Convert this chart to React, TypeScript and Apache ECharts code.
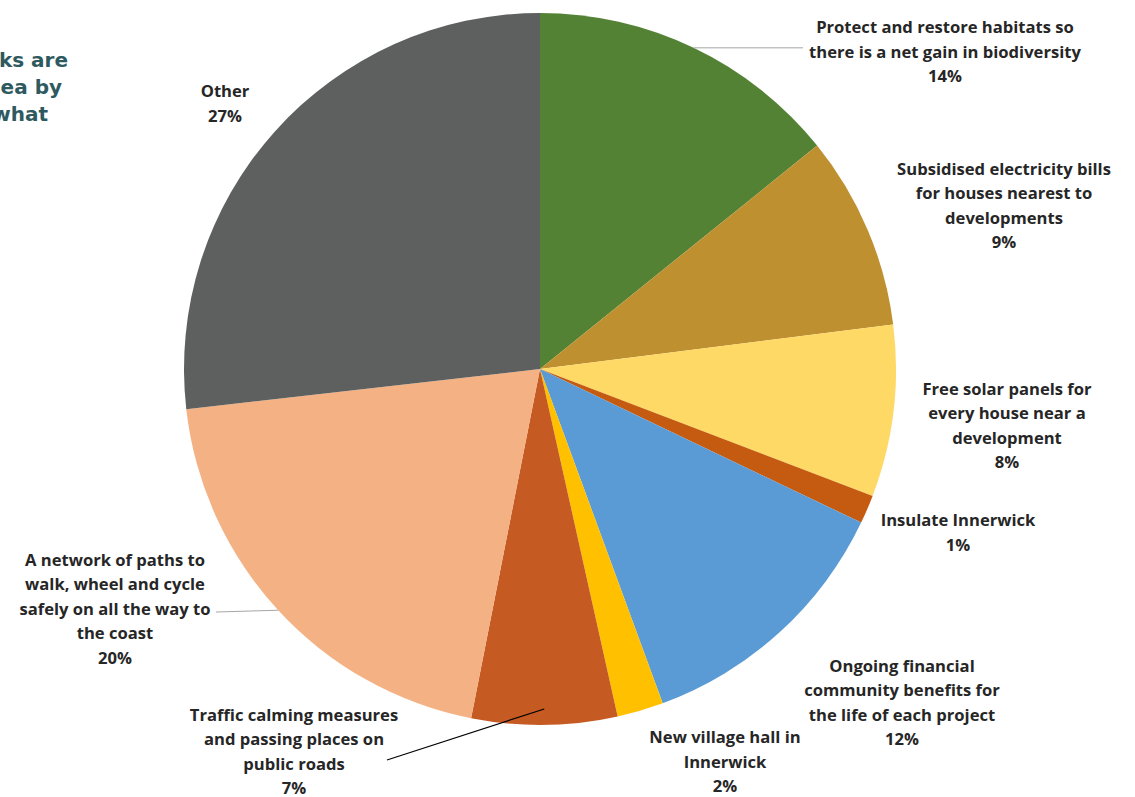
import { useEffect, useRef } from "react";
import * as echarts from "echarts";

// ---- data ----
const categories = [
  "Protect and restore habitats so\nthere is a net gain in biodiversity",
  "Subsidised electricity bills\nfor houses nearest to\ndevelopments",
  "Free solar panels for\nevery house near a\ndevelopment",
  "Insulate Innerwick",
  "Ongoing financial\ncommunity benefits for\nthe life of each project",
  "New village hall in\nInnerwick",
  "Traffic calming measures\nand passing places on\npublic roads",
  "A network of paths to\nwalk, wheel and cycle\nsafely on all the way to\nthe coast",
  "Other",
];
const values = [14.2, 8.8, 7.8, 1.3, 12.3, 2.1, 6.6, 20.1, 26.8];
const headingLines = ["ks are", "ea by", "what"];

// ---- styles / layout ----
const colors = [
  "#548235",
  "#BF902F",
  "#FFD966",
  "#C55A11",
  "#5B9BD5",
  "#FFC000",
  "#C55A22",
  "#F4B183",
  "#5E605F",
];
const labelPositions: [number, number][] = [
  [945, 51],
  [1004, 205],
  [1007, 425],
  [958, 532],
  [902, 702],
  [725, 761],
  [294, 751],
  [115, 608],
  [225, 103],
];
const CX = 540;
const CY = 369;
const R = 356;

function midAngle(i: number) {
  const total = values.reduce((a, b) => a + b, 0);
  let before = 0;
  for (let k = 0; k < i; k++) before += values[k];
  return ((before + values[i] / 2) / total) * 360;
}
function polar(angDeg: number, r: number): [number, number] {
  const a = (angDeg * Math.PI) / 180;
  return [CX + r * Math.sin(a), CY - r * Math.cos(a)];
}

export default function App() {
  const ref = useRef<HTMLDivElement>(null);
  useEffect(() => {
    if (!ref.current) return;
    const chart = echarts.init(ref.current, null, { renderer: "svg" });

    const pProtect = polar(midAngle(0), R);
    const pNetwork = polar(midAngle(7), R);
    const pTraffic = polar(midAngle(6), R * 0.955);

    const lineStyleGray = { stroke: "#A6A6A6", lineWidth: 1 };

    chart.setOption({
      animation: false,
      backgroundColor: "#ffffff",
      series: [
        {
          type: "pie",
          center: [CX, CY],
          radius: R,
          startAngle: 90,
          clockwise: true,
          avoidLabelOverlap: false,
          silent: true,
          data: categories.map((name, i) => ({
            name,
            value: values[i],
            itemStyle: { color: colors[i] },
          })),
          label: {
            show: true,
            position: "outside",
            formatter: (p: any) => `${p.name}\n${Math.round(p.percent)}%`,
            fontFamily: "Open Sans",
            fontWeight: "bold",
            fontSize: 16.6,
            lineHeight: 24.5,
            color: "#262626",
            align: "center",
          },
          labelLine: { show: false },
          labelLayout: (params: any) => {
            const pos = labelPositions[params.dataIndex];
            return {
              x: pos[0],
              y: pos[1],
              align: "center",
              verticalAlign: "middle",
            };
          },
        },
      ],
      graphic: [
        {
          type: "line",
          shape: { x1: pProtect[0], y1: pProtect[1], x2: 803, y2: pProtect[1] },
          style: lineStyleGray,
          z: 10,
        },
        {
          type: "line",
          shape: { x1: pNetwork[0], y1: pNetwork[1], x2: 216, y2: 612 },
          style: lineStyleGray,
          z: 10,
        },
        {
          type: "line",
          shape: { x1: pTraffic[0], y1: pTraffic[1], x2: 387, y2: 760 },
          style: { stroke: "#000000", lineWidth: 1.2 },
          z: 10,
        },
        ...headingLines.map((t, i) => ({
          type: "text",
          right: [1135 - 68, 1135 - 62, 1135 - 48][i],
          top: [50, 77, 104][i],
          style: {
            text: t,
            fill: "#2E5A5F",
            font: "bold 20px 'DejaVu Sans'",
          },
        })),
      ],
    });
    return () => chart.dispose();
  }, []);
  return (
    <div
      ref={ref}
      style={{ position: "fixed", left: 0, top: 0, width: 1135, height: 797 }}
    />
  );
}
